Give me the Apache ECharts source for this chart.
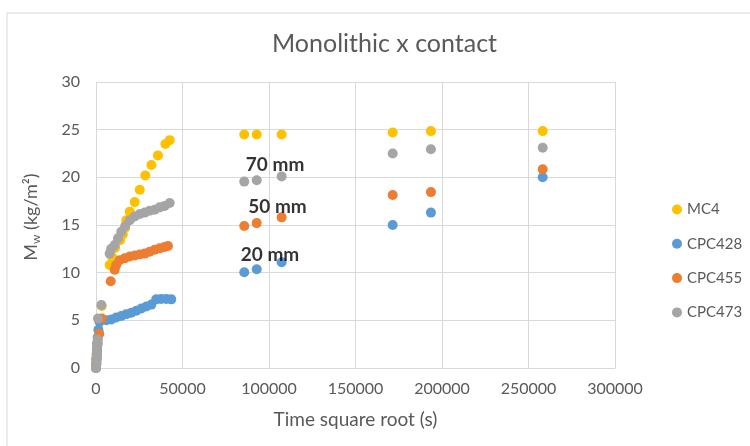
<!DOCTYPE html>
<html><head><meta charset="utf-8">
<script src="https://cdn.jsdelivr.net/npm/echarts@6/dist/echarts.min.js"></script>
<style>html,body{margin:0;padding:0;background:#fff}#c{width:750px;height:446px}</style>
</head><body><div id="c"></div>
<script>
const seriesNames = ['MC4', 'CPC428', 'CPC455', 'CPC473'];
const mc4 = [[0,0],[150,0.5],[300,1.0],[450,1.5],[600,2.0],[800,2.6],[1900,4.9],[3300,6.5],[7900,10.8],[9500,11.6],[11000,12.6],[13900,13.4],[15500,14.0],[16800,14.7],[17500,15.5],[19500,16.4],[22400,17.4],[25300,18.7],[28500,20.2],[32000,21.3],[35800,22.3],[40100,23.5],[42600,23.9],[85700,24.5],[92900,24.5],[107300,24.5],[171500,24.7],[193600,24.85],[258200,24.85]];
const cpc428 = [[0,0],[150,0.4],[300,0.9],[450,1.4],[600,1.9],[800,2.5],[1000,3.2],[1400,4.0],[2100,4.85],[3500,5.1],[6000,5.0],[8900,5.1],[11700,5.3],[14600,5.45],[17500,5.65],[20400,5.8],[23300,6.0],[26200,6.25],[29100,6.45],[32000,6.65],[34800,7.2],[37700,7.25],[40600,7.25],[43500,7.2],[85700,10.05],[92900,10.35],[107300,11.1],[171500,15.0],[193600,16.3],[258200,20.0]];
const cpc455 = [[0,0],[150,0.5],[300,1.0],[450,1.5],[600,2.0],[770,2.6],[1900,3.6],[3300,5.2],[8500,9.1],[10800,10.3],[11700,10.8],[13700,11.3],[16600,11.5],[19500,11.7],[22400,11.8],[25300,11.9],[28100,12.0],[31000,12.2],[33900,12.4],[36800,12.55],[39700,12.7],[41600,12.8],[85700,14.9],[92900,15.2],[107300,15.8],[171500,18.15],[193600,18.45],[258200,20.85]];
const cpc473 = [[0,0],[100,0.3],[200,0.6],[300,0.9],[400,1.2],[500,1.5],[600,1.8],[700,2.1],[800,2.4],[900,2.7],[1000,3.0],[1150,5.2],[3100,6.6],[7900,12.0],[8800,12.5],[10800,12.9],[12700,13.6],[14600,14.3],[16900,14.9],[19500,15.5],[22400,15.9],[25300,16.15],[28100,16.3],[31000,16.5],[33900,16.6],[36800,16.85],[39700,17.0],[42600,17.3],[85700,19.55],[92900,19.7],[107300,20.1],[171500,22.5],[193600,22.95],[258200,23.1]];
const annotTexts = ['70 mm', '50 mm', '20 mm'];
const annotPos = [[103500,21.3],[104900,16.9],[100600,11.85]];
const colors = ['#FFC000', '#5B9BD5', '#ED7D31', '#A5A5A5'];
const allData = [mc4, cpc428, cpc455, cpc473];

const FONT = 'Lato';
const chart = echarts.init(document.getElementById('c'), null, {renderer: 'canvas'});
const series = seriesNames.map((n, i) => ({
  name: n, type: 'scatter', data: allData[i], symbolSize: 10,
  itemStyle: {color: colors[i], opacity: 1}, z: 2 + i
}));
series.push({
  name: 'labels', type: 'scatter', symbolSize: 0, silent: true, z: 10,
  data: annotPos.map((p, i) => ({value: p, name: annotTexts[i]})),
  label: {show: true, position: 'inside', formatter: '{b}', color: '#000', fontFamily: FONT, fontWeight: 'bold', fontSize: 19}
});
chart.setOption({
  animation: false,
  backgroundColor: '#fff',
  color: colors,
  graphic: [{type: 'rect', shape: {x: 7, y: 13, width: 800, height: 500}, style: {fill: 'none', stroke: '#d9d9d9', lineWidth: 1}, silent: true}],
  title: {text: 'Monolithic x contact', left: 267, top: 26,
    textStyle: {fontFamily: FONT, fontSize: 25, fontWeight: 'normal', color: '#595959'}},
  legend: {data: seriesNames, orient: 'vertical', left: 667, top: 197, itemWidth: 10, itemHeight: 14, itemGap: 19.3, icon: 'circle',
    textStyle: {fontFamily: FONT, fontSize: 15, color: '#595959'}},
  grid: {left: 96, right: 135, top: 82, bottom: 78},
  xAxis: {type: 'value', min: 0, max: 300000, interval: 50000,
    name: 'Time square root (s)', nameLocation: 'middle', nameGap: 42,
    nameTextStyle: {fontFamily: FONT, fontSize: 19, color: '#595959'},
    axisLine: {show: true, lineStyle: {color: '#d9d9d9'}}, axisTick: {show: false},
    axisLabel: {fontFamily: FONT, fontSize: 16, color: '#595959', margin: 13, formatter: v => String(v)},
    splitLine: {show: true, lineStyle: {color: '#d9d9d9'}}},
  yAxis: {type: 'value', min: 0, max: 30, interval: 5,
    name: '{a|M}{s|w}{a| (kg/m²)}', nameLocation: 'middle', nameGap: 54,
    nameTextStyle: {fontFamily: FONT, fontSize: 18, color: '#595959', padding: [0, 0, 0, 16],
      rich: {a: {fontFamily: FONT, fontSize: 18, color: '#595959', verticalAlign: 'middle', lineHeight: 22},
             s: {fontFamily: FONT, fontSize: 12, color: '#595959', verticalAlign: 'bottom', lineHeight: 22, padding: [7,0,0,0]}}},
    axisLine: {show: false}, axisTick: {show: false},
    axisLabel: {fontFamily: FONT, fontSize: 16, color: '#595959', margin: 16},
    splitLine: {show: true, lineStyle: {color: '#d9d9d9'}}},
  series: series
});
</script></body></html>
